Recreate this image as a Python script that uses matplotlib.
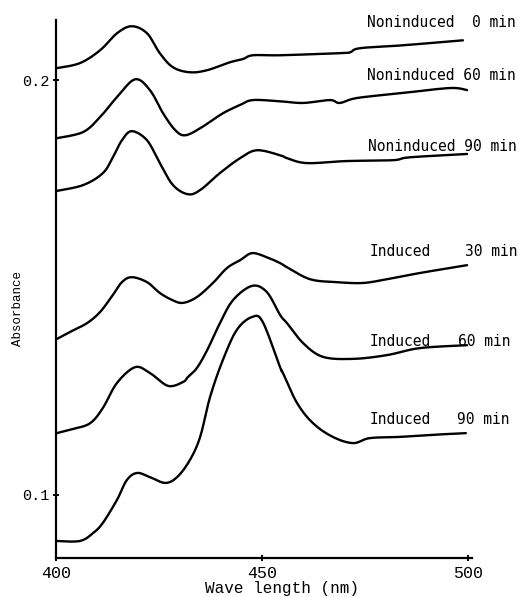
import numpy as np
import matplotlib
matplotlib.use("Agg")
import matplotlib.pyplot as plt

# absorbance spectra (wavelength in nm)
wl_non0 = [400.2, 405.8, 410.7, 414.8, 418.4, 422.1, 425.2, 428.4, 432.5, 436.7, 442.2,
           445.4, 447.8, 454.4, 468.9, 471.4, 473.8, 484.2, 498.8]
abs_non0 = [0.2029, 0.2041, 0.2072, 0.2113, 0.2130, 0.2113, 0.2065, 0.2031, 0.2019, 0.2024, 0.2043,
            0.2051, 0.2060, 0.2060, 0.2065, 0.2067, 0.2077, 0.2084, 0.2096]

wl_non60 = [400.2, 406.6, 410.7, 414.8, 419.2, 422.8, 426.0, 428.9, 431.3, 435.0, 440.5,
            444.7, 447.8, 454.4, 460.0, 466.5, 468.9, 473.1, 484.2, 495.6, 499.8]
abs_non60 = [0.1860, 0.1875, 0.1911, 0.1959, 0.2002, 0.1976, 0.1920, 0.1880, 0.1867, 0.1884, 0.1920,
             0.1940, 0.1952, 0.1949, 0.1945, 0.1952, 0.1945, 0.1957, 0.1969, 0.1981, 0.1976]

wl_non90 = [400.2, 406.6, 411.4, 413.8, 416.0, 418.4, 422.1, 425.2, 428.4, 432.0, 435.0,
            439.8, 444.7, 448.8, 454.4, 456.1, 460.9, 470.6, 481.8, 485.9, 499.8]
abs_non90 = [0.1733, 0.1747, 0.1776, 0.1814, 0.1855, 0.1877, 0.1855, 0.1800, 0.1747, 0.1725, 0.1735,
             0.1776, 0.1812, 0.1831, 0.1819, 0.1812, 0.1800, 0.1805, 0.1807, 0.1814, 0.1822]

wl_ind30 = [400.2, 403.4, 407.5, 410.7, 413.8, 416.0, 418.4, 422.1, 425.2, 428.2, 430.8, 434.2,
            438.1, 441.5, 444.7, 447.6, 451.2, 454.4, 456.1, 461.7, 468.2, 474.5, 480.3, 488.3, 499.8]
abs_ind30 = [0.1376, 0.1393, 0.1414, 0.1441, 0.1482, 0.1513, 0.1525, 0.1513, 0.1487, 0.1470, 0.1463, 0.1477,
             0.1511, 0.1547, 0.1566, 0.1583, 0.1573, 0.1559, 0.1549, 0.1520, 0.1513, 0.1511, 0.1520, 0.1535, 0.1554]

wl_ind60 = [400.2, 404.1, 408.3, 411.4, 414.8, 419.2, 422.8, 427.2, 430.8, 432.0, 434.2, 436.7,
            439.8, 443.0, 447.6, 451.2, 454.4, 456.1, 460.0, 464.8, 472.1, 480.3, 488.3, 499.8]
abs_ind60 = [0.1149, 0.1159, 0.1173, 0.1210, 0.1270, 0.1308, 0.1294, 0.1263, 0.1272, 0.1284, 0.1306, 0.1349,
             0.1414, 0.1470, 0.1504, 0.1489, 0.1434, 0.1414, 0.1366, 0.1333, 0.1328, 0.1337, 0.1354, 0.1361]

wl_ind90 = [400.2, 405.8, 409.0, 411.4, 414.8, 417.2, 419.7, 422.8, 426.5, 429.4, 432.5, 435.0, 437.4,
            440.5, 443.9, 447.6, 450.2, 454.4, 455.1, 458.5, 462.4, 467.2, 472.1, 476.2, 483.5, 491.5, 499.5]
abs_ind90 = [0.0889, 0.0889, 0.0908, 0.0933, 0.0988, 0.1036, 0.1053, 0.1043, 0.1029, 0.1043, 0.1084, 0.1140, 0.1236,
             0.1325, 0.1398, 0.1429, 0.1417, 0.1308, 0.1294, 0.1222, 0.1173, 0.1140, 0.1125, 0.1137, 0.1140, 0.1145, 0.1149]

curves = [(wl_non0, abs_non0), (wl_non60, abs_non60), (wl_non90, abs_non90),
          (wl_ind30, abs_ind30), (wl_ind60, abs_ind60), (wl_ind90, abs_ind90)]

x_ticks = [400, 450, 500]
y_ticks = [0.1, 0.2]
y_ticklabels = ["0.1", "0.2"]

mono = "DejaVu Sans Mono"
courier = "Liberation Mono"


def smooth_path(x, y, n=12):
    # catmull-rom through the read points, only to draw a rounded trace
    x = np.asarray(x, float)
    y = np.asarray(y, float)
    px = np.concatenate([[x[0]], x, [x[-1]]])
    py = np.concatenate([[y[0]], y, [y[-1]]])
    t = np.linspace(0, 1, n, endpoint=False)[:, None]
    t2, t3 = t * t, t * t * t
    out = []
    for p in (px, py):
        p0, p1, p2, p3 = p[:-3], p[1:-2], p[2:-1], p[3:]
        seg = 0.5 * (2 * p1 + (-p0 + p2) * t + (2 * p0 - 5 * p1 + 4 * p2 - p3) * t2
                     + (-p0 + 3 * p1 - 3 * p2 + p3) * t3)
        out.append(np.concatenate([seg.T.ravel(), [p[-2]]]))
    return out[0], out[1]


fig = plt.figure(figsize=(5.19, 5.97), dpi=100)
ax = fig.add_axes([56 / 519, 39 / 597, 416 / 519, 538 / 597])

for wl, a in curves:
    sx, sy = smooth_path(wl, a)
    ax.plot(sx, sy, color="black", lw=1.7, solid_capstyle="round", solid_joinstyle="round")

ax.set_xlim(400, 501)
ax.set_ylim(0.0848, 0.2145)
for s in ["top", "right"]:
    ax.spines[s].set_visible(False)
for s in ["left", "bottom"]:
    ax.spines[s].set_linewidth(1.6)

ax.set_xticks(x_ticks)
ax.set_xticklabels([str(t) for t in x_ticks], family=courier, fontsize=12)
ax.set_yticks(y_ticks)
ax.set_yticklabels(y_ticklabels, family=courier, fontsize=11)
ax.tick_params(axis="x", direction="inout", length=4, width=1.4, pad=4)
ax.tick_params(axis="y", direction="inout", length=4, width=1.4, pad=3)

fig.text(282 / 519, 1 - 589 / 597, "Wave length (nm)", family=courier, fontsize=11.5,
         ha="center", va="center")
fig.text(18 / 519, 1 - 308 / 597, "Absorbance", family=courier, fontsize=9,
         rotation=90, ha="center", va="center")

# curve labels
lab_kw = dict(family=mono, fontsize=10.5, va="center", clip_on=False)
ax.text(475.5, 0.2140, "Noninduced  0 min", **lab_kw)
ax.text(475.5, 0.2010, "Noninduced 60 min", **lab_kw)
ax.text(475.7, 0.1841, "Noninduced 90 min", **lab_kw)
ax.text(476.2, 0.1586, "Induced", **lab_kw)
ax.text(499.3, 0.1586, "30 min", **lab_kw)
ax.text(476.2, 0.1371, "Induced", **lab_kw)
ax.text(497.6, 0.1371, "60 min", **lab_kw)
ax.text(476.2, 0.1183, "Induced", **lab_kw)
ax.text(497.3, 0.1183, "90 min", **lab_kw)

fig.savefig("out.png", dpi=100)
